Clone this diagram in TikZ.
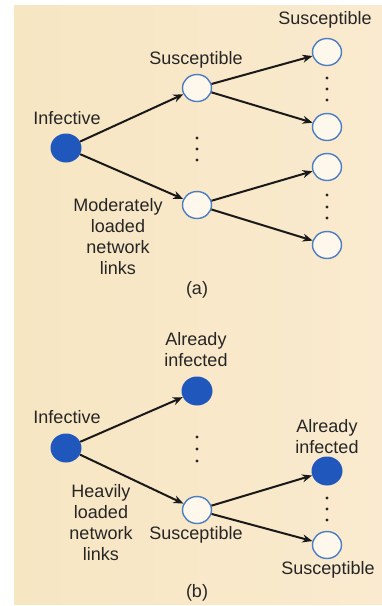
\documentclass[tikz,border=0pt]{standalone}
\usepackage{fontspec}
\setmainfont{Liberation Sans}
\usetikzlibrary{arrows.meta,shapes.geometric}
\definecolor{bgL}{HTML}{F7E6C2}
\definecolor{bgM}{HTML}{FCF6EB}
\definecolor{bgR}{HTML}{FAEACF}
\definecolor{txt}{HTML}{262626}
\definecolor{ring}{HTML}{4C7EC2}
\definecolor{ringfill}{HTML}{FDF7EC}
\definecolor{blob}{HTML}{2057BC}
\tikzset{
  lbl/.style={font=\fontsize{18}{21}\selectfont, text=txt, inner sep=0pt, align=center},
  opennode/.style={ellipse, draw=ring, line width=1.4pt, fill=ringfill, minimum width=29pt, minimum height=27pt, inner sep=0pt},
  fullnode/.style={ellipse, fill=blob, minimum width=31pt, minimum height=29pt, inner sep=0pt},
  link/.style={line width=2pt, draw=black!90, -{Stealth[length=10pt,width=8pt]}},
  dotnode/.style={circle, fill=txt, inner sep=0pt, minimum size=3.4pt}
}
\begin{document}
\begin{tikzpicture}[x=1pt,y=-1pt]
\useasboundingbox (0,0) rectangle (382,606);
\fill[white] (0,0) rectangle (382,606);
\fill[left color=bgL, middle color=bgM, right color=bgR] (14,5) rectangle (382,604);

% ---------- panel (a) ----------
\node[fullnode] (ainf) at (66,148) {};
\node[lbl] (ainfl) at (67,118) {Infective};
\node[opennode] (as1) at (197,88) {};
\node[lbl] (as1l) at (196,60) {Susceptible};
\node[opennode] (as2) at (197,205) {};
\node[lbl] (amod) at (118,237) {Moderately\\loaded\\network\\links};
\node[opennode] (ar1) at (327,52) {};
\node[opennode] (ar2) at (327,127) {};
\node[opennode] (ar3) at (327,167) {};
\node[opennode] (ar4) at (327,245) {};
\node[lbl] (arl) at (325,20) {Susceptible};
\node[lbl] (acap) at (197,290) {(a)};

\node[dotnode] (ad1) at (197,138) {};
\node[dotnode] (ad2) at (197,149) {};
\node[dotnode] (ad3) at (197,160) {};
\node[dotnode] (ad4) at (327,78) {};
\node[dotnode] (ad5) at (327,89) {};
\node[dotnode] (ad6) at (327,100) {};
\node[dotnode] (ad7) at (327,195) {};
\node[dotnode] (ad8) at (327,207) {};
\node[dotnode] (ad9) at (327,218) {};

\draw[link] (ainf) -- (as1);
\draw[link] (ainf) -- (as2);
\draw[link] (as1) -- (ar1);
\draw[link] (as1) -- (ar2);
\draw[link] (as2) -- (ar3);
\draw[link] (as2) -- (ar4);

% ---------- panel (b) ----------
\node[lbl] (bal) at (196,350) {Already\\infected};
\node[fullnode] (ba1) at (197,391) {};
\node[lbl] (binfl) at (67,417) {Infective};
\node[fullnode] (binf) at (66,448) {};
\node[opennode] (bs) at (197,510) {};
\node[lbl] (bsl) at (196,535) {Susceptible};
\node[lbl] (bheavy) at (101,523) {Heavily\\loaded\\network\\links};
\node[lbl] (bal2) at (327,437) {Already\\infected};
\node[fullnode] (bb1) at (327,471) {};
\node[opennode] (bb2) at (327,545) {};
\node[lbl] (bsl2) at (328,570) {Susceptible};
\node[lbl] (bcap) at (197,593) {(b)};

\node[dotnode] (bd1) at (197,437) {};
\node[dotnode] (bd2) at (197,449) {};
\node[dotnode] (bd3) at (197,461) {};
\node[dotnode] (bd4) at (327,498) {};
\node[dotnode] (bd5) at (327,509) {};
\node[dotnode] (bd6) at (327,520) {};

\draw[link] (binf) -- (ba1);
\draw[link] (binf) -- (bs);
\draw[link] (bs) -- (bb1);
\draw[link] (bs) -- (bb2);
\end{tikzpicture}
\end{document}
